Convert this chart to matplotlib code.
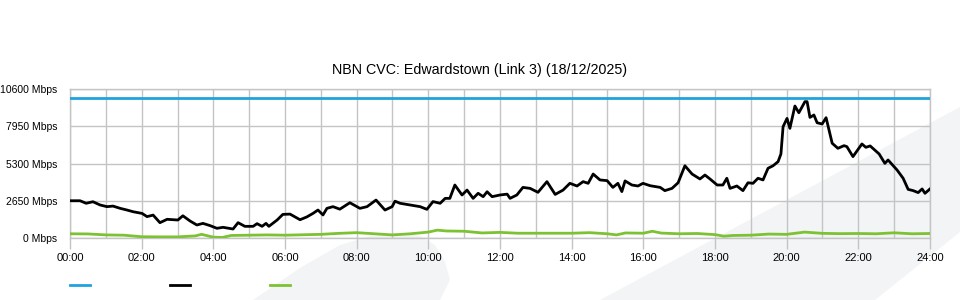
import matplotlib.pyplot as plt
from matplotlib.patches import Polygon
from matplotlib.lines import Line2D

plt.rcParams['font.family'] = ['Liberation Sans', 'DejaVu Sans']

# capacity (blue), black traffic series, green series
capacity = 9950

black_hours = [0.00, 0.28, 0.45, 0.64, 0.84, 1.03, 1.20, 1.40, 1.59, 1.76, 2.01, 2.15, 2.32, 2.51, 2.71,
               3.01, 3.15, 3.35, 3.54, 3.71, 3.91, 4.10, 4.27, 4.55, 4.69, 4.88, 5.11, 5.22, 5.36, 5.47,
               5.55, 5.78, 5.94, 6.14, 6.42, 6.61, 6.78, 6.92, 7.06, 7.17, 7.34, 7.53, 7.81, 8.09, 8.29,
               8.54, 8.79, 8.99, 9.07, 9.21, 9.49, 9.77, 9.96, 10.13, 10.33, 10.47, 10.60, 10.74, 10.94,
               11.08, 11.25, 11.39, 11.53, 11.64, 11.78, 12.00, 12.20, 12.28, 12.47, 12.64, 12.84, 13.06,
               13.31, 13.54, 13.76, 13.95, 14.15, 14.32, 14.46, 14.60, 14.79, 14.99, 15.15, 15.29, 15.40,
               15.49, 15.68, 15.85, 15.99, 16.19, 16.47, 16.60, 16.80, 16.97, 17.16, 17.36, 17.58, 17.72,
               17.86, 18.06, 18.22, 18.33, 18.42, 18.61, 18.78, 18.92, 19.06, 19.20, 19.34, 19.48, 19.62,
               19.76, 19.84, 19.90, 20.01, 20.09, 20.23, 20.34, 20.51, 20.57, 20.65, 20.76, 20.85, 20.99,
               21.10, 21.27, 21.43, 21.60, 21.68, 21.85, 22.10, 22.21, 22.33, 22.58, 22.74, 22.83, 23.08,
               23.25, 23.39, 23.53, 23.67, 23.78, 23.86, 24.00]
black_mbps = [2650, 2650, 2470, 2580, 2350, 2230, 2270, 2110, 1990, 1870, 1750, 1520, 1630, 1090, 1330,
              1280, 1580, 1210, 925, 1040, 880, 690, 760, 640, 1090, 830, 830, 1020, 830, 1040,
              830, 1280, 1680, 1700, 1300, 1500, 1750, 1990, 1640, 2110, 2230, 2050, 2510, 2110, 2230,
              2700, 1990, 2230, 2620, 2470, 2350, 2230, 2040, 2590, 2470, 2820, 2820, 3770, 3060,
              3410, 2820, 3180, 2940, 3290, 2940, 3060, 3120, 2820, 3060, 3600, 3530, 3250,
              4010, 3100, 3410, 3890, 3700, 4010, 3890, 4550, 4130, 4080, 3600, 3890, 3300,
              4060, 3770, 3700, 3890, 3720, 3600, 3370, 3530, 3930, 5140, 4550, 4200, 4480,
              4200, 3770, 3770, 4250, 3530, 3700, 3370, 3930, 3890, 4250, 4130, 4960, 5140,
              5430, 5980, 7920, 8510, 7800, 9390, 8910, 9700, 9700, 8580, 8750, 8200, 8110,
              8560, 6740, 6380, 6570, 6500, 5790, 6690, 6450, 6550, 5980, 5310, 5550, 4840,
              4250, 3460, 3370, 3230, 3490, 3180, 3490]

green_hours = [0.0, 0.5, 1.0, 1.5, 2.0, 2.5, 3.0, 3.5, 3.67, 4.0, 4.25, 4.5, 5.0, 5.5, 6.0, 6.5, 7.0,
               7.5, 8.0, 8.5, 9.0, 9.5, 10.0, 10.25, 10.5, 11.0, 11.5, 12.0, 12.5, 13.0, 13.5, 14.0,
               14.5, 15.0, 15.25, 15.5, 16.0, 16.25, 16.5, 17.0, 17.5, 18.0, 18.25, 18.5, 19.0, 19.5,
               20.0, 20.5, 21.0, 21.5, 22.0, 22.5, 23.0, 23.5, 24.0]
green_mbps = [300, 290, 220, 200, 90, 80, 80, 150, 260, 60, 40, 180, 200, 220, 200, 230, 260,
              330, 380, 300, 220, 300, 420, 560, 500, 480, 360, 400, 340, 340, 340, 340,
              380, 300, 220, 360, 340, 480, 350, 300, 320, 240, 130, 180, 200, 280,
              260, 420, 330, 310, 320, 300, 370, 300, 320]

y_ticks = [0, 2650, 5300, 7950, 10600]
x_ticks = list(range(0, 25, 2))
x_labels = ['%02d:00' % h for h in x_ticks]

fig = plt.figure(figsize=(9.6, 3.0), dpi=100)

# faint background watermark shapes (pixel coords, y from top)
shade = '#f3f4f6'
shapes = [
    [(253, 300), (300, 268), (340, 245), (370, 236), (400, 233), (420, 236), (435, 245),
     (445, 262), (450, 280), (440, 300)],
    [(600, 300), (960, 107), (960, 232), (875, 300)],
]
for pts in shapes:
    fig.add_artist(Polygon([(x / 960, 1 - y / 300) for x, y in pts], closed=True,
                           transform=fig.transFigure, facecolor=shade, edgecolor='none', zorder=0))

ax = fig.add_axes([70 / 960, 1 - 238 / 300, 860 / 960, 149 / 300])
ax.patch.set_alpha(0)

ax.plot([0, 24], [capacity, capacity], color='#1fa3df', lw=2, zorder=3)
ax.plot(black_hours, black_mbps, color='black', lw=2, zorder=4)
ax.plot(green_hours, green_mbps, color='#7cc232', lw=2, zorder=3)

ax.set_xlim(0, 24)
ax.set_ylim(0, 10600)
ax.set_xticks(x_ticks)
ax.set_xticklabels(x_labels, fontsize=8)
ax.set_xticks(range(25), minor=True)
ax.set_yticks(y_ticks)
ax.set_yticklabels(['%d Mbps' % v for v in y_ticks], fontsize=7.5)
ax.tick_params(axis='y', length=0, pad=9)
ax.tick_params(axis='x', which='major', length=8, color='#c4c4c4', width=1, pad=3)
ax.tick_params(axis='x', which='minor', length=0)
ax.grid(True, which='both', axis='x', color='#c4c4c4', lw=1)
ax.grid(True, which='major', axis='y', color='#c4c4c4', lw=1)
for s in ax.spines.values():
    s.set_color('#c4c4c4')
    s.set_linewidth(1)

# title is centred on the figure, not on the plot area
ax.set_title('NBN CVC: Edwardstown (Link 3) (18/12/2025)', fontsize=10.3, pad=11,
             x=(480 - 70) / 860)

handles = [Line2D([], [], color=c, lw=2) for c in ['#1fa3df', 'black', '#7cc232']]
fig.legend(handles, ['', '', ''], ncol=3, loc='upper left', bbox_to_anchor=(57 / 960, 1 - 266 / 300),
           frameon=False, handlelength=1.5, handletextpad=0, columnspacing=5.7, fontsize=10)

fig.savefig('out.png', dpi=100)
